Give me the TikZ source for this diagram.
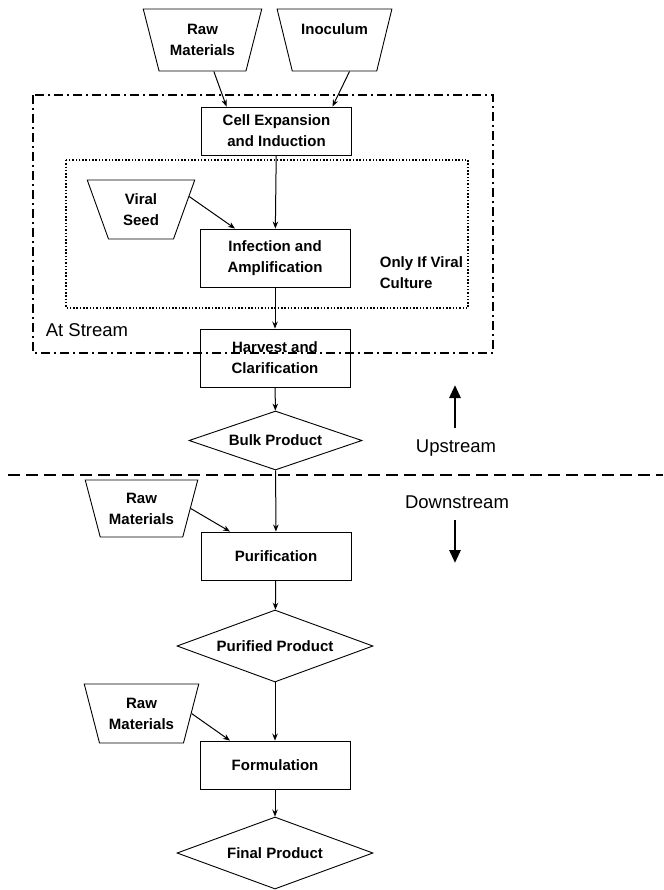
\documentclass[tikz,border=0pt]{standalone}
\usepackage{fontspec}
\setmainfont{Liberation Sans}
\usetikzlibrary{shapes.geometric,arrows.meta,positioning}
\tikzset{process/.style={rectangle,draw,line width=0.9pt,minimum width=150pt,align=center,inner sep=1pt},
         source/.style={trapezium,draw,line width=0.9pt,shape border rotate=180,trapezium stretches=true,
                        trapezium left angle=70,trapezium right angle=70,minimum width=114pt,minimum height=59pt,
                        align=center,inner sep=1pt},
         product/.style={diamond,draw,line width=0.9pt,aspect=2.7,inner sep=1pt,align=center},
         side label/.style={rectangle,draw=none,fill=none,font=\fontsize{18.5}{22}\selectfont},
         big arrow/.style={line width=2.8pt,-{Triangle[length=13pt,width=11pt]}}
}

\begin{document}
\begin{tikzpicture}[->,>={Stealth[length=7pt,width=5.5pt]},
x=1pt, y=-1pt,
every node/.append style={font=\bfseries\fontsize{15}{21}\selectfont},
line width=1pt]

\useasboundingbox (0,0) rectangle (663,890);

% upstream part
\node[source,minimum width=119pt,minimum height=62pt] (raw1) at (202.5,40) {Raw\\Materials};
\node[source,minimum width=115pt,minimum height=62pt] (inoc) at (334.5,40) {Inoculum\\~};
\node[process,minimum height=48pt] (cell) at (276.5,131) {Cell Expansion\\and Induction};
\node[source,minimum width=108pt] (seed) at (141,209.5) {Viral\\Seed};
\node[process,minimum height=58pt] (infect) at (275,258) {Infection and\\Amplification};
\node[rectangle,align=left,anchor=west] (only) at (376,273) {Only If Viral\\Culture};
\node[process,minimum height=58pt] (harvest) at (275,358) {Harvest and\\Clarification};
\node[product,minimum width=173pt,minimum height=59pt] (bulk) at (275.5,440.5) {Bulk Product};

% boxes round the culture steps
\draw[-,line width=2.1pt,dash pattern=on 9pt off 4pt on 2pt off 4pt] (33,95) rectangle (493,353);
\draw[-,line width=1.2pt,dash pattern=on 1.5pt off 1.8pt] (66,160) rectangle (468,308);
\node[side label,anchor=west] (stream) at (42,330) {At Stream};

% downstream part
\node[source,minimum width=113pt,minimum height=57pt] (raw2) at (141.5,508.5) {Raw\\Materials};
\node[process,minimum height=48pt] (purif) at (276,556) {Purification};
\node[product,minimum width=196pt,minimum height=72pt] (purified) at (275,646) {Purified Product};
\node[source,minimum width=115pt] (raw3) at (141.5,713.5) {Raw\\Materials};
\node[process,minimum height=48pt] (formul) at (275,765) {Formulation};
\node[product,minimum width=196pt,minimum height=72pt] (final) at (275,853) {Final Product};

\draw (raw1) -- ([xshift=-50pt]cell.north);
\draw ([xshift=15pt]inoc.south) -- ([xshift=56pt]cell.north);
\draw (cell) -- (infect);
\draw (seed.15) -- ([xshift=-40pt]infect.north);
\draw (infect) -- (harvest);
\draw (harvest) -- (bulk);
\draw (bulk) -- (purif);
\draw (raw2.east) -- ([xshift=-46pt]purif.north);
\draw (purif) -- (purified);
\draw (purified) -- (formul);
\draw (raw3.east) -- ([xshift=-45pt]formul.north);
\draw (formul) -- (final);

% upstream / downstream
\draw[-,line width=1.9pt,dash pattern=on 12pt off 6pt] (8,475) -- (663,475);
\node[side label] (up) at (456,448) {Upstream};
\node[side label] (down) at (457,502) {Downstream};
\coordinate (up tail) at (455,428);
\coordinate (up head) at (455,385);
\coordinate (down tail) at (455,520);
\coordinate (down head) at (455,563);
\draw[big arrow] (up tail) -- (up head);
\draw[big arrow] (down tail) -- (down head);
\end{tikzpicture}
\end{document}
